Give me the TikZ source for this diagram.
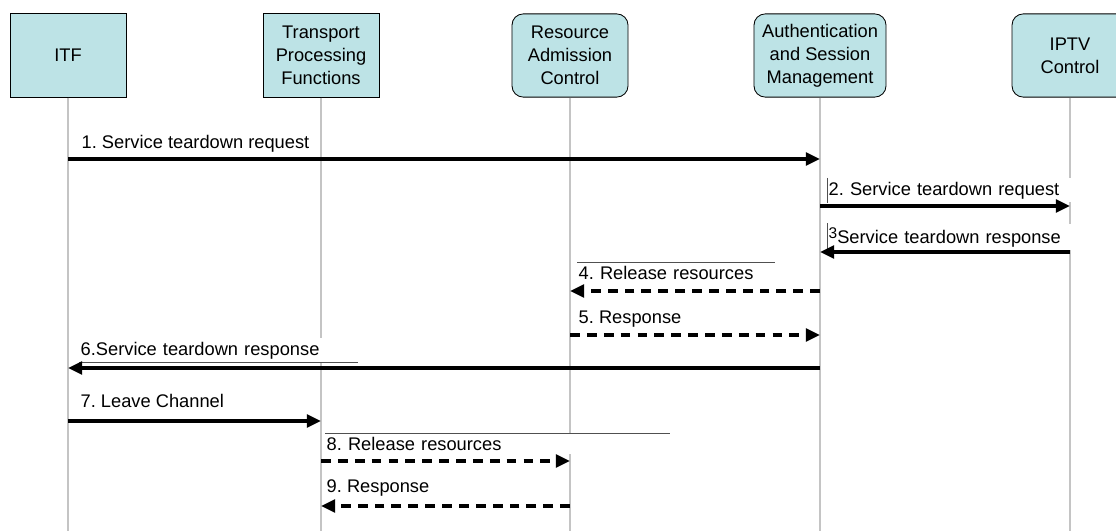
\documentclass[tikz,border=0pt]{standalone}
\usepackage{fontspec}
\setmainfont{Liberation Sans}
\frenchspacing
\usetikzlibrary{arrows.meta, positioning, calc}
\definecolor{BoxCyan}{HTML}{BDE3E6}
\definecolor{LineGray}{HTML}{C4C4C4}
\definecolor{EdgeGray}{HTML}{505050}
\tikzset{
  box/.style={draw=black, line width=0.6pt, fill=BoxCyan, align=center, minimum height=2.08cm, minimum width=2.9cm, inner sep=2pt, font=\fontsize{13}{16.5}\selectfont},
  roundbox/.style={box, rounded corners=8pt},
  lifeline/.style={draw=LineGray, line width=1pt},
  msglabel/.style={fill=white, anchor=base west, align=left, inner xsep=1pt, inner ysep=2.5pt, font=\fontsize{13}{16}\selectfont},
  arrow/.style={-{Triangle[length=10pt, width=9pt]}, line width=2.2pt},
  dasharrow/.style={arrow, dash pattern=on 7pt off 5pt},
  edgeline/.style={draw=EdgeGray, line width=0.3pt}
}

\begin{document}
\begin{tikzpicture}[x=0.025cm, y=-0.025cm]
\useasboundingbox (0,0) rectangle (1116,531);
\node[box] (itf) at (68,55.5) {ITF};
\node[box] (tpf) at (321,55.5) {Transport\\Processing\\Functions};
\node[roundbox] (rac) at (570,55.5) {Resource\\Admission\\Control};
\node[roundbox, minimum width=3.3cm] (asm) at (820,55.5) {Authentication\\and Session\\Management};
\node[roundbox] (iptv) at (1070,55.5) {IPTV\\Control};
\foreach \p in {itf, tpf, rac, asm, iptv}
  \draw[lifeline] (\p.south) -- (\p.south |- 0,531);

\node[msglabel] (l1) at (80,149) {1. Service teardown request};
\node[msglabel, text width=6.15cm] (l2) at (827,195) {2. Service teardown request};
\node[msglabel, text width=6.15cm] (l3) at (827,243) {\raisebox{3.5pt}{\fontsize{11}{12}\selectfont 3}Service teardown response};
\node[msglabel, text width=4.875cm] (l4) at (577,279) {4. Release resources};
\node[msglabel] (l5) at (577,323) {5. Response};
\node[msglabel, text width=6.9cm] (l6) at (79,355) {6.Service teardown response};
\node[msglabel] (l7) at (79,407) {7. Leave Channel};
\node[msglabel, text width=8.55cm] (l8) at (325,450) {8. Release resources};
\node[msglabel] (l9) at (325,492) {9. Response};
\draw[edgeline] (l2.north west) -- (l2.south west);
\draw[edgeline] (l3.north west) -- (l3.south west);
\draw[edgeline] (l4.north west) -- (l4.north east);
\draw[edgeline] (l6.south west) -- (l6.south east);
\draw[edgeline] (l8.north west) -- (l8.north east);

\draw[arrow] (itf |- 0,159) -- (asm |- 0,159);
\draw[arrow] (asm |- 0,206) -- (iptv |- 0,206);
\draw[arrow] (iptv |- 0,252) -- (asm |- 0,252);
\draw[dasharrow] (asm |- 0,291) -- (rac |- 0,291);
\draw[dasharrow] (rac |- 0,335) -- (asm |- 0,335);
\draw[arrow] (asm |- 0,368) -- (itf |- 0,368);
\draw[arrow] (itf |- 0,421) -- (tpf |- 0,421);
\draw[dasharrow] (tpf |- 0,461) -- (rac |- 0,461);
\draw[dasharrow] (rac |- 0,506) -- (tpf |- 0,506);
\end{tikzpicture}
\end{document}
